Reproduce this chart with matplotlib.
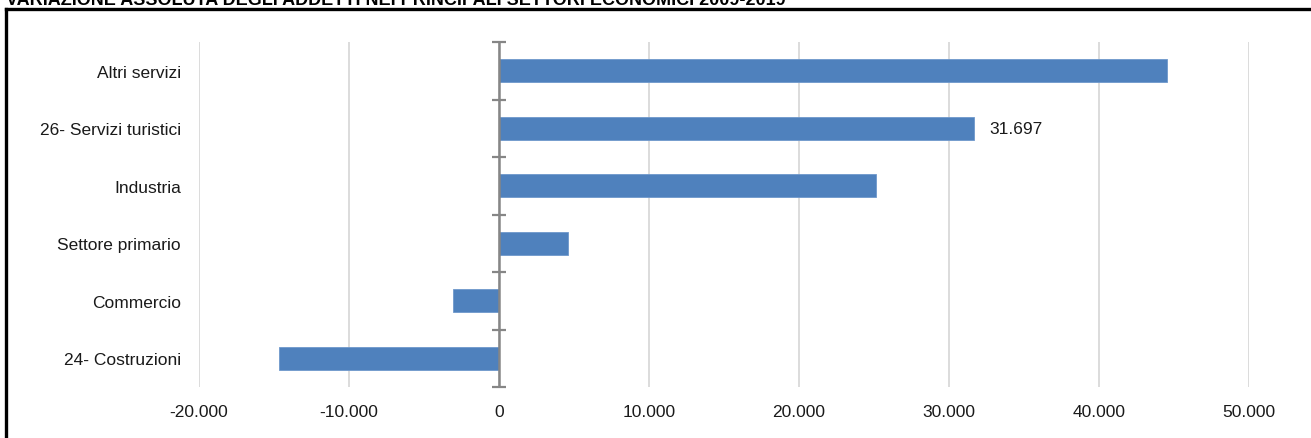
import matplotlib
matplotlib.use('Agg')
import matplotlib.pyplot as plt
from matplotlib.lines import Line2D
from matplotlib.ticker import FuncFormatter, MultipleLocator
import numpy as np

## Data (top to bottom as in the chart)
settori = ["Altri servizi", "26- Servizi turistici", "Industria",
           "Settore primario", "Commercio", "24- Costruzioni"]
variazione = [44500, 31697, 25150, 4600, -3050, -14700]
etichette = ["", "31.697", "", "", "", ""]
titolo = "VARIAZIONE ASSOLUTA DEGLI ADDETTI NEI PRINCIPALI SETTORI ECONOMICI 2009-2019"

plt.rcParams['font.family'] = ['Liberation Sans', 'DejaVu Sans']

W, H = 1311, 439
fig = plt.figure(figsize=(W/100., H/100.), dpi=100)
ax = fig.add_axes([199./W, 1-388./H, (1249.-199.)/W, (388.-43.)/H])

ypos = np.arange(len(settori))[::-1]
bars = ax.barh(ypos, variazione, height=0.4, color='#4F81BD',
               edgecolor='#6E98CC', linewidth=0.6, zorder=3)

## annotation on one bar only
for b, lab in zip(bars, etichette):
    if lab:
        ax.annotate(lab, (b.get_width(), b.get_y() + b.get_height()/2.),
                    xytext=(11, 0), textcoords='offset points',
                    va='center', ha='left', fontsize=12.5, color='#1a1a1a')

ax.set_xlim(-20000, 50000)
ax.set_ylim(-0.5, len(settori) - 0.5)
ax.xaxis.set_major_locator(MultipleLocator(10000))
ax.xaxis.set_major_formatter(FuncFormatter(lambda v, p: '{:,.0f}'.format(v).replace(',', '.')))
ax.grid(axis='x', color='#D9D9D9', linewidth=1.3, zorder=0)
ax.set_axisbelow(True)

ax.set_yticks(ypos)
ax.set_yticklabels(settori)
ax.tick_params(axis='y', length=0, pad=13, labelsize=12.5, labelcolor='#1a1a1a')
ax.tick_params(axis='x', length=0, pad=12, labelsize=12.5, labelcolor='#1a1a1a')
for s in ax.spines.values():
    s.set_visible(False)

## vertical category axis at zero with boundary ticks
ax.axvline(0, color='#868686', linewidth=1.8, zorder=4)
bordi = np.arange(len(settori) + 1) - 0.5
ax.plot(np.zeros(len(bordi)), bordi, ls='none', marker='_', ms=9.5,
        mew=1.6, color='#868686', zorder=4, clip_on=False)

## frame of the original panel and clipped title
fig.add_artist(Line2D([6./W, 6./W], [0, 1-10./H], transform=fig.transFigure,
                      color='black', linewidth=2.4))
fig.add_artist(Line2D([6./W, 1.], [1-10./H, 1-10./H], transform=fig.transFigure,
                      color='black', linewidth=2.4))
fig.text(6./W, 1-5./H, titolo, fontsize=13, fontweight='bold', va='baseline', ha='left')

plt.savefig("out.png", dpi=100)
